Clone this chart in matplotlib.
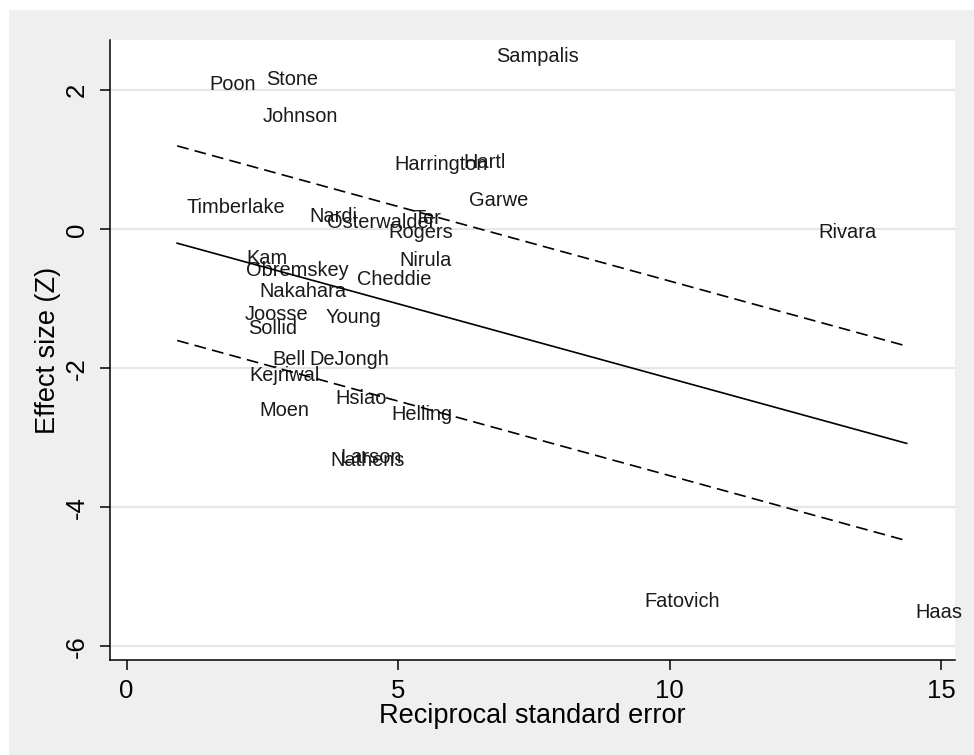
import matplotlib
matplotlib.use("Agg")
import matplotlib.pyplot as plt
from matplotlib.patches import Rectangle
import numpy as np

# ---- data ----
studies = ["Sampalis", "Poon", "Stone", "Johnson", "Harrington", "Hartl", "Garwe",
           "Timberlake", "Nardi", "Osterwalder", "Ter", "Rogers", "Rivara", "Kam",
           "Obremskey", "Nirula", "Cheddie", "Nakahara", "Joosse", "Sollid", "Young",
           "Bell", "DeJongh", "Kejriwal", "Hsiao", "Moen", "Helling", "Larson",
           "Nathens", "Fatovich", "Haas"]
precision = [6.63, 1.35, 2.40, 2.33, 4.76, 6.04, 6.14,
             0.93, 3.19, 3.53, 5.12, 4.66, 12.56, 2.03,
             2.03, 4.85, 4.08, 2.27, 2.00, 2.07, 3.50,
             2.52, 3.19, 2.09, 3.68, 2.28, 4.70, 3.76,
             3.59, 9.36, 14.36]
effect_z = [2.49, 2.09, 2.15, 1.63, 0.93, 0.96, 0.41,
            0.32, 0.19, 0.10, 0.15, -0.04, -0.05, -0.42,
            -0.59, -0.45, -0.72, -0.89, -1.22, -1.42, -1.27,
            -1.87, -1.87, -2.11, -2.44, -2.61, -2.66, -3.28,
            -3.33, -5.35, -5.51]
fit_slope = -0.2145
fit_intercept = 0.0
band_halfwidth = 1.4

x_ticks = [0, 5, 10, 15]
y_ticks = [-6, -4, -2, 0, 2]
x_title = "Reciprocal standard error"
y_title = "Effect size (Z)"

# ---- style ----
plt.rcParams['font.family'] = ['Liberation Sans', 'DejaVu Sans']
plt.rcParams['lines.scale_dashes'] = False

W, H = 974, 755
fig = plt.figure(figsize=(W / 100, H / 100), dpi=100, facecolor='white')
fig.add_artist(Rectangle((9 / W, 0), 1 - 9 / W, 1 - 10 / H, transform=fig.transFigure,
                         facecolor='#efefef', edgecolor='none', zorder=-5))

ax = fig.add_axes([110 / W, 1 - 660 / H, (955 - 110) / W, (660 - 40) / H])
ax.set_facecolor('white')
ax.set_xlim(-0.306, 15.25)
ax.set_ylim(-6.197, 2.724)

for s in ('top', 'right'):
    ax.spines[s].set_visible(False)
for s in ('left', 'bottom'):
    ax.spines[s].set_linewidth(1.1)
    ax.spines[s].set_color('black')

ax.yaxis.grid(True, color='#e6e6e6', lw=1.6)
ax.xaxis.grid(False)
ax.set_axisbelow(True)

# fitted line and band
xs = np.array([min(precision), max(precision)])
yc = fit_slope * xs + fit_intercept
ax.plot(xs, yc, color='black', lw=1.2, zorder=3)
ax.plot(xs, yc + band_halfwidth, color='black', lw=1.2, dashes=(8.5, 4.5), zorder=3)
ax.plot(xs, yc - band_halfwidth, color='black', lw=1.2, dashes=(8.5, 4.5), zorder=3)

# study labels (no markers)
for name, x, y in zip(studies, precision, effect_z):
    ax.annotate(name, (x, y), xytext=(6.5, 0), textcoords='offset points',
                ha='left', va='center', fontsize=14.4, color='#1a1a1a', zorder=2)

ax.set_xticks(x_ticks)
ax.set_xticklabels([str(t) for t in x_ticks])
ax.set_yticks(y_ticks)
ax.set_yticklabels([str(t) for t in y_ticks], rotation=90, va='center')
ax.tick_params(axis='both', direction='out', length=7, width=1.1, labelsize=18.5,
               colors='black')
ax.tick_params(axis='x', pad=7)
ax.tick_params(axis='y', pad=8)

ax.set_xlabel(x_title, fontsize=19.5, labelpad=0)
ax.set_ylabel(y_title, fontsize=19.5, labelpad=3)

fig.savefig('out.png', dpi=100, facecolor=fig.get_facecolor())
